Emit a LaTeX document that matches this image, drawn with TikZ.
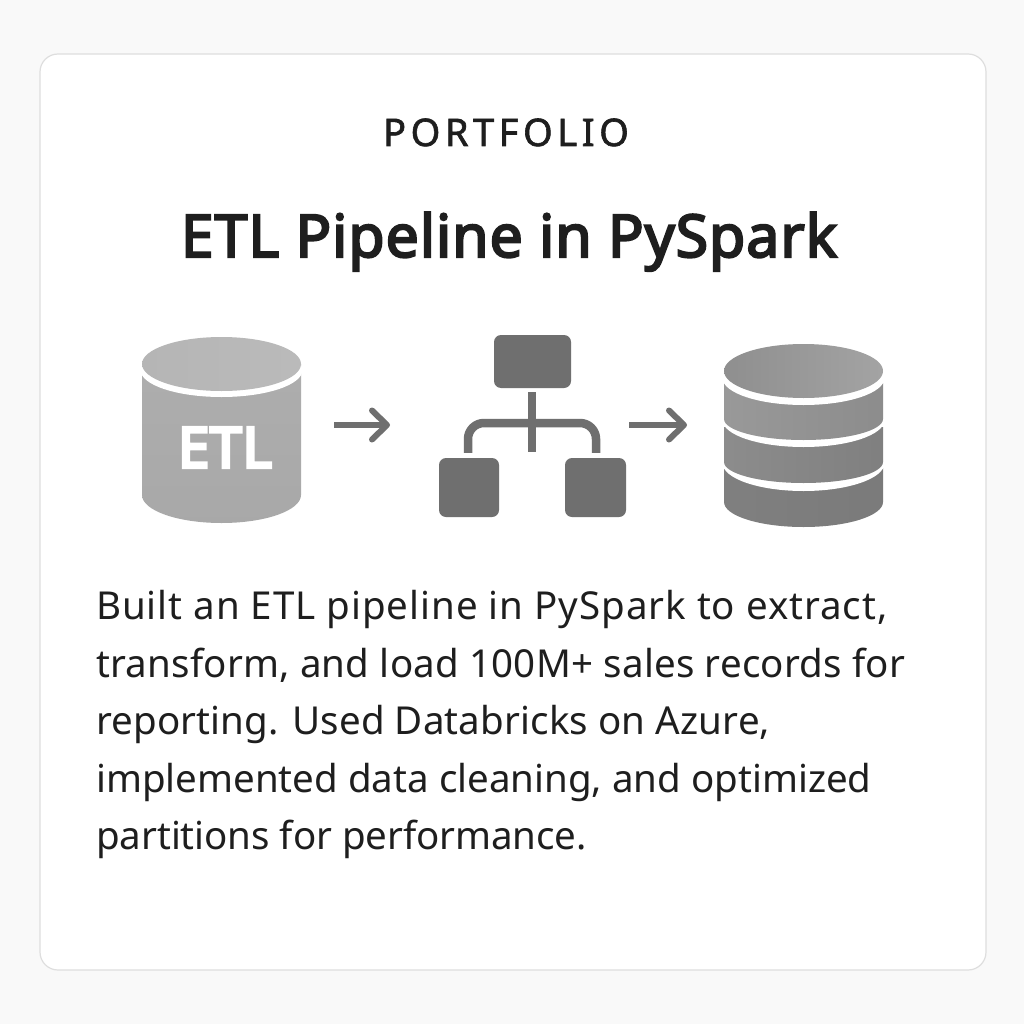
\documentclass[tikz,border=0pt]{standalone}
\usepackage{fontspec}
\setmainfont{Noto Sans}
\newfontfamily\titlefont[RawFeature={embolden=3.6},LetterSpace=1.6]{Noto Sans}
\newfontfamily\labelfont[RawFeature={embolden=1.6},LetterSpace=12]{Noto Sans}
\newfontfamily\iconfont[RawFeature={embolden=6},LetterSpace=2]{Noto Sans}
\usetikzlibrary{arrows.meta,calc}
\definecolor{pagebg}{HTML}{F9F9F9}
\definecolor{cardline}{HTML}{DEDEDE}
\definecolor{ink}{HTML}{1E1E1E}
\definecolor{boxgray}{HTML}{6F6F6F}
\tikzset{
  card/.style={draw=cardline,line width=1.2pt,fill=white,rounded corners=18pt},
  netbox/.style={draw=none,fill=boxgray,rounded corners=7pt,minimum width=#1,inner sep=0pt},
  flow/.style={draw=boxgray,line width=6pt,-{Straight Barb[length=15pt,width=29pt,round,line width=6pt]}},
  link/.style={draw=boxgray,line width=8.5pt},
  bodytext/.style={anchor=base west,font=\fontsize{38.5}{40}\selectfont,text=ink,inner sep=0pt},
}
\begin{document}
\begin{tikzpicture}[x=1pt,y=-1pt]
\useasboundingbox (0,0) rectangle (1024,1024);
\fill[pagebg] (0,0) rectangle (1024,1024);
\path[card] (40,54) rectangle (986,970);
% heading
\node[anchor=base,inner sep=0pt,text=ink] (kicker) at (506,146) {\labelfont\fontsize{38}{40}\selectfont PORTFOLIO};
\node[anchor=base,inner sep=0pt,text=ink] (title) at (509,257) {\titlefont\fontsize{59}{62}\selectfont ETL Pipeline in PySpark};
% ETL cylinder
\shade[top color=black!32,bottom color=black!34]
  (142,364) -- (142,495) arc[start angle=180,end angle=0,x radius=79.5,y radius=28] -- (301,364) -- cycle;
\fill[white] (221.5,370) ellipse[x radius=81,y radius=27];
\shade[left color=black!29,right color=black!27] (221.5,364) ellipse[x radius=79.5,y radius=27];
\node[text=white,inner sep=0pt,anchor=base] (etl) at (225,467.5) {\iconfont\fontsize{56}{58}\selectfont ETL};
% layered cylinder
\shade[left color=black!50,right color=black!52]
  (724,468) -- (724,502) arc[start angle=180,end angle=0,x radius=79.5,y radius=25] -- (883,468) -- cycle;
\fill[white] (803.5,463) ellipse[x radius=81,y radius=28];
\shade[left color=black!45,right color=black!50]
  (724,427) -- (724,462) arc[start angle=180,end angle=0,x radius=79.5,y radius=21] -- (883,462) -- (883,427) -- cycle;
\fill[white] (803.5,420) ellipse[x radius=81,y radius=27];
\shade[left color=black!40,right color=black!45]
  (724,383) -- (724,419) arc[start angle=180,end angle=0,x radius=79.5,y radius=21] -- (883,419) -- (883,383) -- cycle;
\fill[white] (803.5,378) ellipse[x radius=81,y radius=27];
\shade[left color=black!44,right color=black!36] (803.5,371) ellipse[x radius=79.5,y radius=27];
% hierarchy
\node[netbox=77pt,minimum height=53pt] (root) at (532.5,361.5) {};
\node[netbox=60pt,minimum height=59pt] (left) at (469,487.5) {};
\node[netbox=61pt,minimum height=59pt] (right) at (595.5,487.5) {};
\coordinate (bus) at (532,423);
\draw[link] ($(root.south)+(-0.5,4)$) -- ($(bus)+(0,29)$);
\draw[link,rounded corners=16pt] ($(left.north)+(-1,-5)$) |- (bus) -| ($(right.north)+(0.5,-5)$);
% flow arrows
\coordinate (a1s) at (334,425); \coordinate (a1e) at (390,425);
\coordinate (a2s) at (629,425); \coordinate (a2e) at (687,425);
\draw[flow] (a1s) -- (a1e);
\draw[flow] (a2s) -- (a2e);
% description
\node[bodytext] (l1) at (96,619.5) {\addfontfeature{LetterSpace=2.5}Built an ETL pipeline in PySpark to extract,};
\node[bodytext] (l2) at (96,677) {\addfontfeature{LetterSpace=0.6}transform, and load 100M+ sales records for};
\node[bodytext] (l3) at (96,734) {\addfontfeature{LetterSpace=0.36}reporting. Used Databricks on Azure,};
\node[bodytext] (l4) at (96,792) {implemented data cleaning, and optimized};
\node[bodytext] (l5) at (96,849) {\addfontfeature{LetterSpace=-0.2}partitions for performance.};
\end{tikzpicture}
\end{document}
